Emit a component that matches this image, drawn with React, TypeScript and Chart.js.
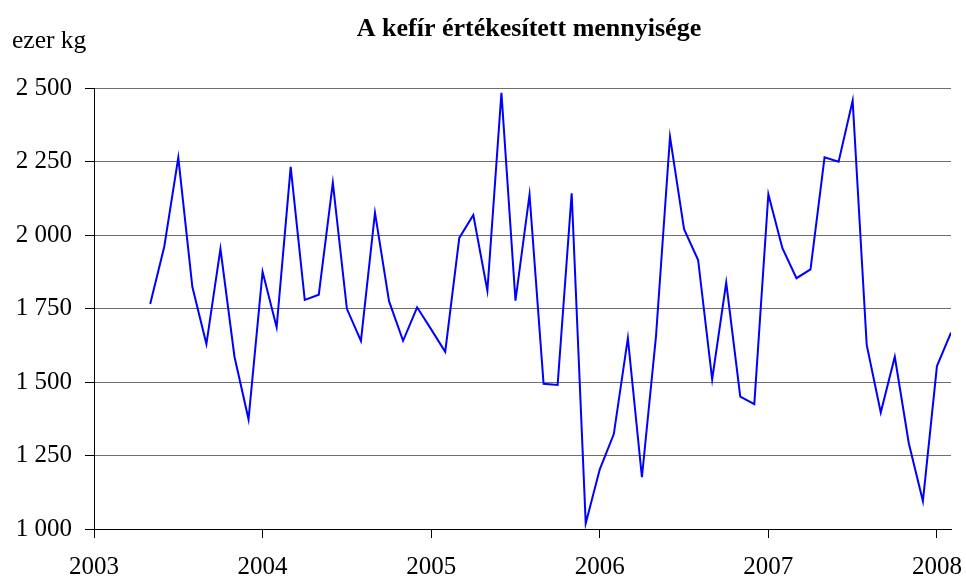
import React, { useEffect, useRef } from "react";
import { Chart, registerables } from "chart.js";

Chart.register(...registerables);

const chartTitle = "A kefír értékesített mennyisége";
const unitLabel = "ezer kg";

// first observation: May 2003 (monthly series)
const startYear = 2003;
const startMonth = 5;
const yearTicks = [2003, 2004, 2005, 2006, 2007, 2008];

const values = [
  1765, 1960, 2263, 1824, 1629, 1953, 1586, 1373,
  1875, 1686, 2232, 1779, 1797, 2178, 1749, 1640, 2076, 1775, 1640, 1754,
  1679, 1603, 1990, 2068, 1811, 2484, 1777, 2137, 1494, 1490, 2142, 1019,
  1203, 1323, 1649, 1176, 1654, 2334, 2020, 1915, 1509, 1838, 1450, 1425,
  2139, 1955, 1853, 1883, 2264, 2249, 2457, 1626, 1396, 1586, 1291, 1095,
  1554, 1668,
];

const yTicks = [1000, 1250, 1500, 1750, 2000, 2250, 2500];

const FONT = "'Liberation Serif', 'Times New Roman', serif";

const fmt = (v: number) =>
  String(Math.round(v)).replace(/\B(?=(\d{3})+(?!\d))/g, " ");

export default function App() {
  const ref = useRef<HTMLCanvasElement | null>(null);

  useEffect(() => {
    if (!ref.current) return;
    const offset = startMonth - 1;
    const points = values.map((v, i) => ({ x: offset + i, y: v }));
    const xMax = offset + values.length - 1;

    const textPlugin = {
      id: "texts",
      afterDraw(chart: any) {
        const ctx = chart.ctx;
        ctx.save();
        ctx.fillStyle = "#000";
        ctx.textBaseline = "alphabetic";
        ctx.font = `bold 26px ${FONT}`;
        ctx.textAlign = "center";
        ctx.fillText(chartTitle, 529, 36);
        ctx.font = `25.5px ${FONT}`;
        ctx.textAlign = "left";
        ctx.fillText(unitLabel, 12, 48);
        ctx.restore();
      },
    };

    const chart = new Chart(ref.current, {
      type: "line",
      data: {
        datasets: [
          {
            data: points,
            borderColor: "#0000FF",
            borderWidth: 2,
            pointRadius: 0,
            tension: 0,
            fill: false,
          },
        ],
      },
      options: {
        responsive: false,
        animation: false,
        parsing: false as any,
        layout: { padding: { left: 0, right: 15, top: 88, bottom: 0 } },
        plugins: {
          legend: { display: false },
          title: { display: false },
          tooltip: { enabled: false },
        },
        scales: {
          x: {
            type: "linear",
            min: 0,
            max: xMax,
            afterBuildTicks: (s: any) => {
              s.ticks = yearTicks.map((y) => ({ value: (y - startYear) * 12 }));
            },
            afterFit: (s: any) => {
              s.height = 51;
              s.paddingLeft = 0;
              s.paddingRight = 0;
            },
            ticks: {
              autoSkip: false,
              maxRotation: 0,
              padding: 14,
              color: "#000",
              font: { family: FONT, size: 25 },
              callback: (v: any) => String(startYear + Math.round(Number(v) / 12)),
            },
            grid: {
              drawOnChartArea: false,
              drawTicks: true,
              tickLength: 9,
              tickColor: "#000",
            },
            border: { display: true, color: "#000", width: 1 },
          },
          y: {
            min: yTicks[0],
            max: yTicks[yTicks.length - 1],
            afterBuildTicks: (s: any) => {
              s.ticks = yTicks.map((v) => ({ value: v }));
            },
            afterFit: (s: any) => {
              s.width = 94;
              s.paddingTop = 0;
              s.paddingBottom = 0;
            },
            ticks: {
              padding: 13,
              color: "#000",
              font: { family: FONT, size: 25 },
              callback: (v: any) => fmt(Number(v)),
            },
            grid: {
              color: "#6e6e6e",
              lineWidth: 1,
              drawTicks: true,
              tickLength: 9,
              tickColor: "#000",
            },
            border: { display: true, color: "#000", width: 1 },
          },
        },
      },
      plugins: [textPlugin],
    });
    return () => chart.destroy();
  }, []);

  return (
    <div style={{ position: "absolute", left: 0, top: 0, width: 966, height: 580, background: "#fff" }}>
      <canvas ref={ref} width={966} height={580} style={{ width: 966, height: 580, display: "block" }} />
    </div>
  );
}
